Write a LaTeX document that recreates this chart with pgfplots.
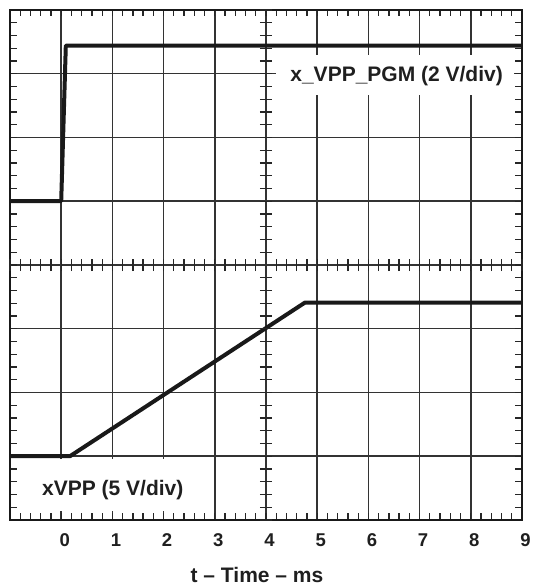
\documentclass[border=0pt]{standalone}
\usepackage{fontspec}
\setmainfont{Liberation Sans}
\usepackage{pgfplots}
\pgfplotsset{compat=1.18}
\begin{document}
\begin{tikzpicture}[x=1pt,y=1pt]
\path[use as bounding box] (0,0) rectangle (534,586);
\begin{axis}[
  at={(10pt,66pt)}, anchor=south west,
  scale only axis, width=512pt, height=510pt,
  xmin=-1, xmax=9, ymin=0, ymax=8,
  xtick={-1,...,9}, ytick={0,...,8},
  xticklabels={,0,1,2,3,4,5,6,7,8,9},
  yticklabels={},
  minor x tick num=4, minor y tick num=4,
  tick align=inside,
  major tick length=6.5pt, minor tick length=6.5pt,
  tick style={line width=1.3pt, black!85},
  grid=major,
  major grid style={line width=1.5pt, black!80},
  axis line style={line width=2.6pt, black!90},
  clip=false,
  /pgf/number format/assume math mode=true,
  xticklabel style={font=\fontsize{18.5}{18.5}\selectfont\bfseries, text=black!88, anchor=base, yshift=-27pt, xshift=3.5pt, inner sep=0pt},
]
\node[fill=white, minimum width=238pt, minimum height=40pt, inner sep=0pt] at (axis cs:6.520,6.980) {};
\node[fill=white, minimum width=182pt, minimum height=52pt, inner sep=0pt] at (axis cs:0.934,0.55) {};
\addplot[line width=4pt, black!90, line join=round] coordinates {(-1,5) (0,5) (0.09,7.44) (9,7.44)};
\addplot[line width=4pt, black!90, line join=round] coordinates {(-1,1) (0.17,1) (4.76,3.41) (9,3.41)};
\node[anchor=base east, inner sep=0pt, font=\fontsize{21}{21}\selectfont\bfseries, text=black!88] at (axis cs:8.629,6.871) {x\_VPP\_PGM (2 V/div)};
\node[anchor=base west, inner sep=0pt, font=\fontsize{21}{21}\selectfont\bfseries, text=black!88] at (axis cs:-0.375,0.3765) {xVPP (5 V/div)};
\node[anchor=base, inner sep=0pt, font=\fontsize{21}{21}\selectfont\bfseries, text=black!88] at (axis cs:3.824,-0.988) {t – Time – ms};
\end{axis}
\begin{axis}[
  at={(10pt,66pt)}, anchor=south west,
  scale only axis, width=512pt, height=510pt,
  xmin=-5, xmax=5, ymin=-4, ymax=4,
  axis lines=middle,
  axis line style={draw=none},
  xtick={-5,...,5}, ytick={-4,...,4},
  xticklabels={}, yticklabels={},
  minor x tick num=4, minor y tick num=4,
  tick align=center,
  major tick length=12.5pt, minor tick length=12.5pt,
  tick style={line width=1.3pt, black!85},
]
\end{axis}
\end{tikzpicture}
\end{document}
